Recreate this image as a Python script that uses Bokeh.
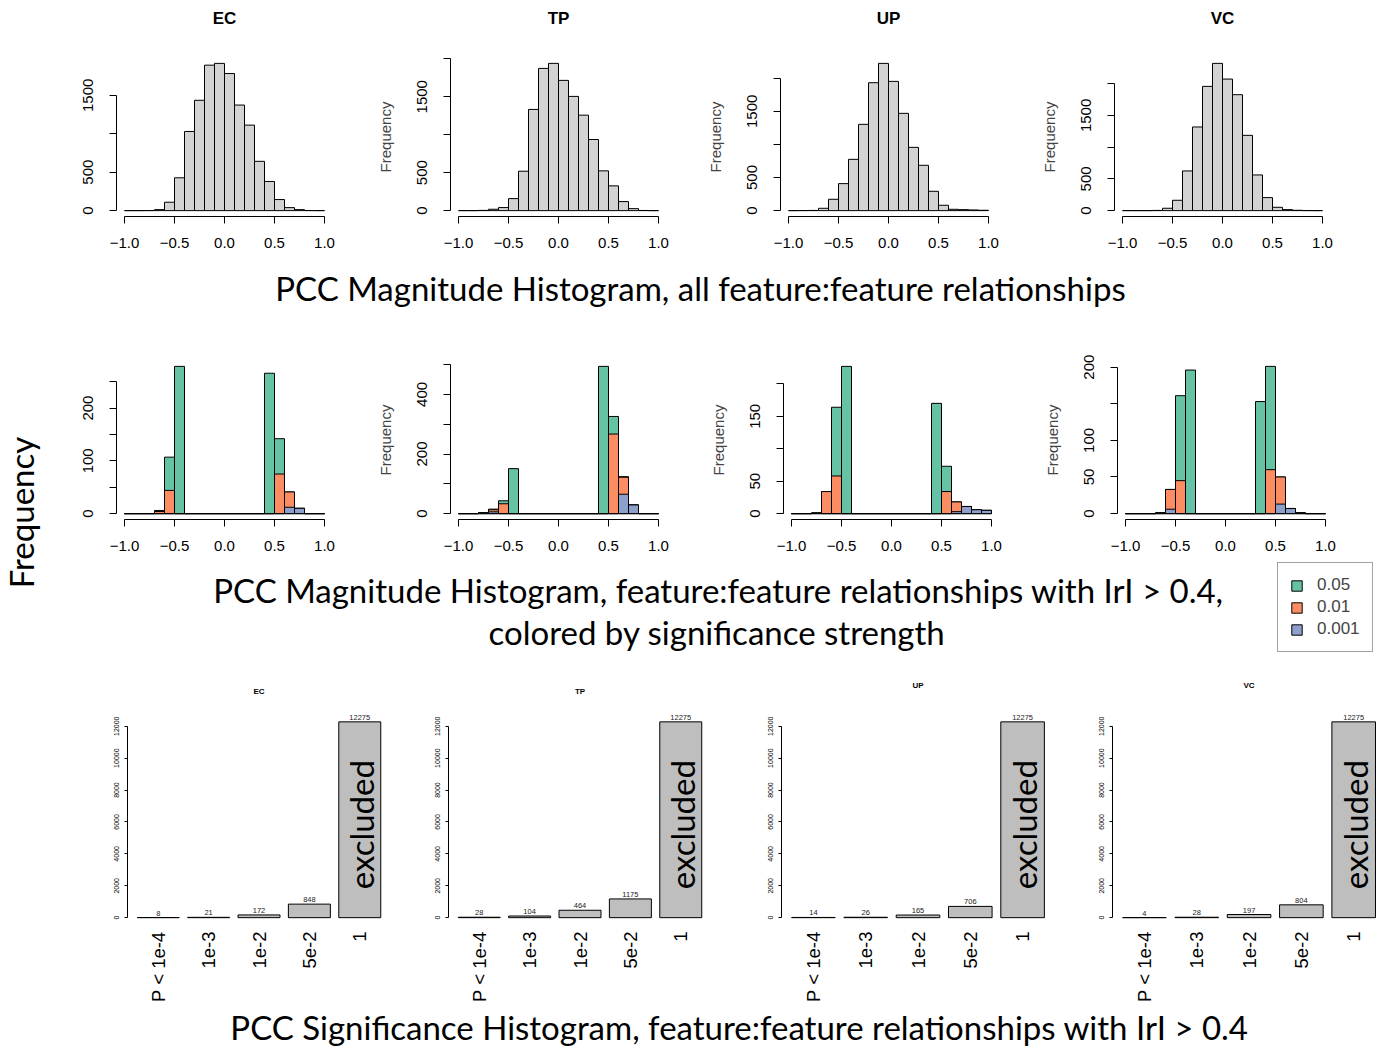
import math
from bokeh.plotting import figure
from bokeh.models import Range1d, FixedTicker, CustomJSTickFormatter, Legend, LegendItem
from bokeh.layouts import row, column
from bokeh.core.properties import value
from bokeh.embed import file_html
from bokeh.resources import INLINE

# ---------------- data ----------------
panels = ["EC", "TP", "UP", "VC"]
bin_left = [-1.0, -0.9, -0.8, -0.7, -0.6, -0.5, -0.4, -0.3, -0.2, -0.1,
            0.0, 0.1, 0.2, 0.3, 0.4, 0.5, 0.6, 0.7, 0.8, 0.9]
bin_right = [-0.9, -0.8, -0.7, -0.6, -0.5, -0.4, -0.3, -0.2, -0.1, 0.0,
             0.1, 0.2, 0.3, 0.4, 0.5, 0.6, 0.7, 0.8, 0.9, 1.0]

# all feature:feature relationships
all_EC = [0, 0, 1, 13, 109, 427, 1029, 1435, 1892, 1915, 1783, 1373, 1112, 641, 379, 144, 39, 13, 1, 0]
all_TP = [0, 0, 3, 18, 40, 158, 519, 1333, 1874, 1940, 1716, 1505, 1258, 937, 524, 326, 119, 26, 2, 0]
all_UP = [0, 1, 3, 35, 171, 408, 775, 1304, 1933, 2225, 1953, 1470, 956, 685, 292, 81, 20, 15, 10, 5]
all_VC = [0, 0, 0, 3, 37, 163, 625, 1318, 1958, 2320, 2073, 1827, 1186, 562, 205, 52, 16, 5, 1, 0]

# |r| > 0.4, by significance threshold
p05_EC = [0, 0, 0, 6, 107, 279, 0, 0, 0, 0, 0, 0, 0, 0, 266, 142, 41, 10, 0, 0]
p01_EC = [0, 0, 0, 4, 44, 0, 0, 0, 0, 0, 0, 0, 0, 0, 0, 75, 41, 10, 0, 0]
p001_EC = [0, 0, 0, 0, 0, 0, 0, 0, 0, 0, 0, 0, 0, 0, 0, 0, 12, 10, 0, 0]

p05_TP = [0, 0, 3, 15, 43, 151, 0, 0, 0, 0, 0, 0, 0, 0, 494, 326, 124, 29, 0, 0]
p01_TP = [0, 0, 3, 13, 33, 0, 0, 0, 0, 0, 0, 0, 0, 0, 0, 267, 122, 29, 0, 0]
p001_TP = [0, 0, 3, 6, 0, 0, 0, 0, 0, 0, 0, 0, 0, 0, 0, 0, 65, 29, 0, 0]

p05_UP = [0, 0, 1, 34, 164, 227, 0, 0, 0, 0, 0, 0, 0, 0, 170, 73, 18, 11, 6, 5]
p01_UP = [0, 0, 1, 34, 58, 0, 0, 0, 0, 0, 0, 0, 0, 0, 0, 34, 18, 11, 6, 5]
p001_UP = [0, 0, 1, 0, 0, 0, 0, 0, 0, 0, 0, 0, 0, 0, 0, 0, 3, 11, 6, 5]

p05_VC = [0, 0, 0, 1, 33, 161, 196, 0, 0, 0, 0, 0, 0, 153, 201, 50, 7, 1, 0, 0]
p01_VC = [0, 0, 0, 1, 33, 45, 0, 0, 0, 0, 0, 0, 0, 0, 60, 50, 7, 1, 0, 0]
p001_VC = [0, 0, 0, 1, 6, 0, 0, 0, 0, 0, 0, 0, 0, 0, 0, 13, 7, 1, 0, 0]

sig_labels = ["0.05", "0.01", "0.001"]

# significance histogram
pval_cats = ["P < 1e-4", "1e-3", "1e-2", "5e-2", "1"]
pval_EC = [8, 21, 172, 848, 12275]
pval_TP = [28, 104, 464, 1175, 12275]
pval_UP = [14, 26, 165, 706, 12275]
pval_VC = [4, 28, 197, 804, 12275]

# tick labels shown on the y axes (R drops overlapping ones)
ylab_top = {"EC": [0, 500, 1500], "TP": [0, 500, 1500], "UP": [0, 500, 1500], "VC": [0, 500, 1500]}
ylab_mid = {"EC": [0, 100, 200], "TP": [0, 200, 400], "UP": [0, 50, 150], "VC": [0, 50, 100, 200]}
ystep_mid = {"EC": 50, "TP": 100, "UP": 50, "VC": 50}
x_ticks = [-1.0, -0.5, 0.0, 0.5, 1.0]
bar_ticks_y = [0, 2000, 4000, 6000, 8000, 10000, 12000]

title_top = "PCC Magnitude Histogram, all feature:feature relationships"
title_mid1 = "PCC Magnitude Histogram, feature:feature relationships with IrI > 0.4,"
title_mid2 = "colored by significance strength"
title_bot = "PCC Significance Histogram, feature:feature relationships with IrI > 0.4"

# ---------------- style ----------------
R_FONT = "Liberation Sans"
PPT_FONT = "Lato"
HIST_GRAY = "#D3D3D3"
BAR_GRAY = "#BEBEBE"
SIG_COLORS = ["#66C2A5", "#FC8D62", "#8DA0CB"]

all_counts = {"EC": all_EC, "TP": all_TP, "UP": all_UP, "VC": all_VC}
sig_counts = {"EC": [p05_EC, p01_EC, p001_EC], "TP": [p05_TP, p01_TP, p001_TP],
              "UP": [p05_UP, p01_UP, p001_UP], "VC": [p05_VC, p01_VC, p001_VC]}
pval_counts = {"EC": pval_EC, "TP": pval_TP, "UP": pval_UP, "VC": pval_VC}

LEFT_W = 50
RIGHT_W = 1327
HIST_FRAME_W = 216
row1_spec = [(320, 66, 38), (330, 80, 34), (335, 80, 39), (342, 79, 47)]
row2_spec = [(320, 66, 38), (330, 80, 34), (335, 83, 36), (342, 82, 44)]
row3_spec = [(370, 77, 30), (340, 28, 49), (330, 21, 36), (287, 22, 0)]
row3_vert = [(7, 220, 83), (7, 220, 83), (1, 227, 82), (1, 227, 82)]
row3_xrange = [(-0.032, 6.232), (-0.032, 6.232), (-0.032, 6.232), (-0.032, 6.046)]
row3_title_y = [7, 7, 13, 13]   # px above the bottom of the title strip


def base_fig(width, height, xr, yr, L, R, T, B):
    p = figure(width=width, height=height, x_range=xr, y_range=yr,
               output_backend="svg", toolbar_location=None,
               min_border_left=L, min_border_right=R, min_border_top=T, min_border_bottom=B)
    p.grid.visible = False
    p.outline_line_color = None
    p.background_fill_color = "white"
    p.border_fill_color = "white"
    return p


def style_axis(ax, size):
    ax.major_label_text_font = R_FONT
    ax.major_label_text_font_size = size
    ax.major_label_text_color = "black"
    ax.axis_line_color = "black"
    ax.axis_line_width = 1
    ax.major_tick_line_color = "black"
    ax.minor_tick_line_color = None
    ax.major_tick_in = 0


def make_hist(layers, colors, spec, T, B, ystep, ylabels, with_ylab):
    width, L, R = spec
    M = max(layers[0])
    top_val = 1.04 * M
    p = base_fig(width, T + 159 + B, Range1d(-1.08, 1.08), Range1d(-0.04 * M, top_val), L, R, T, B)
    for vals, col in zip(layers, colors):
        p.quad(left=bin_left, right=bin_right, bottom=0, top=vals,
               fill_color=col, line_color="black", line_width=1)
    xa = p.xaxis[0]
    style_axis(xa, "15px")
    xa.ticker = FixedTicker(ticks=x_ticks, minor_ticks=[])
    xa.formatter = CustomJSTickFormatter(code="return tick.toFixed(1).replace('-', '\\u2212');")
    xa.bounds = (-1, 1)
    xa.major_tick_out = 7
    xa.major_label_standoff = 14
    ya = p.yaxis[0]
    style_axis(ya, "15px")
    yt = [v for v in range(0, 100000, ystep) if v <= top_val]
    ya.ticker = FixedTicker(ticks=yt, minor_ticks=[])
    ya.formatter = CustomJSTickFormatter(args=dict(show=ylabels),
                                         code="return show.includes(tick) ? String(tick) : '';")
    ya.bounds = (0, yt[-1])
    ya.major_tick_out = 7
    ya.major_label_standoff = 16
    ya.major_label_orientation = "vertical"
    if with_ylab:
        ya.axis_label = "Frequency"
        ya.axis_label_text_font = R_FONT
        ya.axis_label_text_font_size = "15px"
        ya.axis_label_text_font_style = "normal"
        ya.axis_label_standoff = 21
    return p


def make_bars(counts, spec, vert, xr):
    width, L, R = spec
    T, FH, B = vert
    M = max(counts)
    bar_x = [0.2 + 1.2 * i + 0.5 for i in range(len(counts))]
    p = base_fig(width, T + FH + B, Range1d(*xr), Range1d(-0.04 * M, 1.0835 * M), L, R, T, B)
    p.vbar(x=bar_x, top=counts, bottom=0, width=1.0, fill_color=BAR_GRAY,
           line_color="black", line_width=1)
    p.text(x=bar_x, y=counts, text=[str(c) for c in counts], text_align="center",
           text_baseline="bottom", y_offset=-2, text_font=value(R_FONT),
           text_font_size="7.5px", text_color="#222222")
    p.text(x=[bar_x[-1]], y=[counts[-1] * 0.475], text=["excluded"], angle=math.pi / 2,
           text_align="center", text_baseline="middle", x_offset=1,
           text_font=value(PPT_FONT), text_font_size="33px", text_color="black")
    xa = p.xaxis[0]
    style_axis(xa, "18.5px")
    xa.ticker = FixedTicker(ticks=bar_x, minor_ticks=[])
    xa.formatter = CustomJSTickFormatter(args=dict(labels=pval_cats),
                                         code="return labels[Math.round((tick - 0.7) / 1.2)];")
    xa.axis_line_color = None
    xa.major_tick_line_color = None
    xa.major_tick_out = 0
    xa.major_label_standoff = 6
    xa.major_label_orientation = math.pi / 2
    ya = p.yaxis[0]
    style_axis(ya, "7px")
    ya.ticker = FixedTicker(ticks=bar_ticks_y, minor_ticks=[])
    ya.bounds = (0, 12000)
    ya.major_tick_out = 3
    ya.major_label_standoff = 5
    ya.major_label_orientation = "vertical"
    return p


def text_band(width, height):
    p = figure(width=width, height=height, x_range=Range1d(0, width), y_range=Range1d(0, height),
               x_axis_type=None, y_axis_type=None, output_backend="svg", toolbar_location=None,
               min_border=0)
    p.outline_line_color = None
    p.background_fill_color = "white"
    p.border_fill_color = "white"
    return p


def big_text(p, x, y, txt, angle=0.0):
    p.text(x=[x], y=[y], text=[txt], angle=angle, text_align="center", text_baseline="middle",
           text_font=value(PPT_FONT), text_font_size="33px", text_color="black")


def title_text(p, xs, ys, names, size):
    p.text(x=xs, y=ys, text=names, text_align="center", text_baseline="middle",
           text_font=value(R_FONT), text_font_size=size, text_font_style="bold", text_color="black")


# ---------------- build ----------------
# panel titles for the top row (centred over each frame)
tband1 = text_band(RIGHT_W, 30)
offs, xs = 0, []
for (w, L, R) in row1_spec:
    xs.append(offs + L + HIST_FRAME_W / 2)
    offs += w
title_text(tband1, xs, [12] * 4, panels, "17px")

row1 = [make_hist([all_counts[n]], [HIST_GRAY], row1_spec[i], 27, 46, 500, ylab_top[n], i > 0)
        for i, n in enumerate(panels)]
row2 = [make_hist(sig_counts[n], SIG_COLORS, row2_spec[i], 48, 43, ystep_mid[n], ylab_mid[n], i > 0)
        for i, n in enumerate(panels)]

# panel titles for the bottom row (centred over each plot region)
tband3 = text_band(RIGHT_W, 26)
offs, xs = 0, []
for (w, L, R), (x0, x1) in zip(row3_spec, row3_xrange):
    fw = w - L - R
    scale = fw / (x1 - x0)
    xs.append(offs + L + ((-0.032 + 6.232) / 2 - x0) * scale)
    offs += w
title_text(tband3, xs, row3_title_y, panels, "8px")

row3 = [make_bars(pval_counts[n], row3_spec[i], row3_vert[i], row3_xrange[i])
        for i, n in enumerate(panels)]

band1 = text_band(RIGHT_W, 50)
big_text(band1, 650, 25, title_top)

band2 = text_band(RIGHT_W, 110)
big_text(band2, 668, 83, title_mid1)
big_text(band2, 666.5, 41, title_mid2)
# legend proxies: one NaN row each, so nothing is drawn in the band itself
nan = float("nan")
proxies = [band2.quad(left=[nan], right=[nan], top=[nan], bottom=[nan], fill_color=c, line_color="black")
           for c in SIG_COLORS]
legend = Legend(items=[LegendItem(label=l, renderers=[r]) for l, r in zip(sig_labels, proxies)],
                location=(1227, 20), orientation="vertical")
legend.label_text_font = R_FONT
legend.label_text_font_size = "17px"
legend.label_height = 18
legend.glyph_height = 13
legend.glyph_width = 13
legend.label_standoff = 14
legend.spacing = 2
legend.padding = 12
legend.margin = 0
legend.border_line_color = "#444444"
legend.border_line_width = 1
legend.background_fill_color = "white"
legend.background_fill_alpha = 1.0
band2.add_layout(legend)

band3 = text_band(RIGHT_W, 39)
big_text(band3, 689, 21, title_bot)

left = text_band(LEFT_W, 1047)
big_text(left, 20, 535, "Frequency", angle=math.pi / 2)

right = column(tband1, row(*row1), band1, row(*row2), band2, tband3, row(*row3), band3)
layout = row(left, right)

open("out.html", "w").write(file_html(layout, INLINE, "PCC histograms"))
